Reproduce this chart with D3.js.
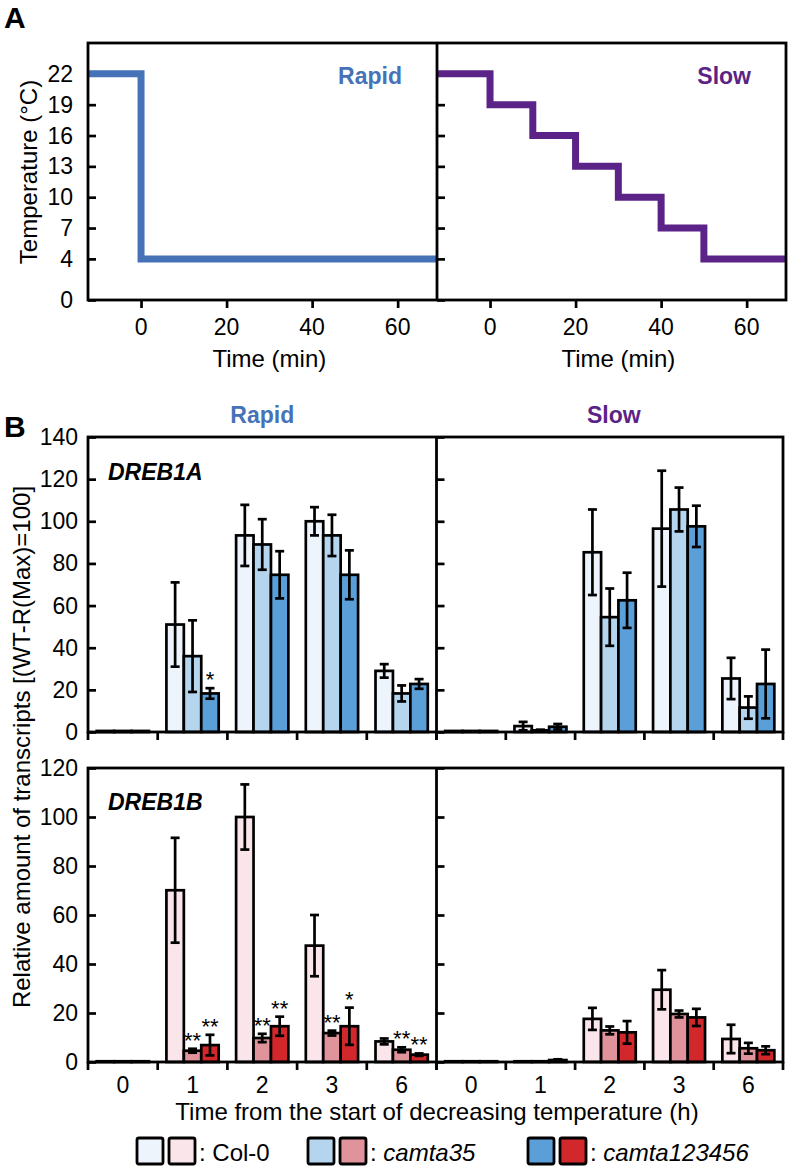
<!DOCTYPE html>
<html><head><meta charset="utf-8">
<script src="https://cdn.jsdelivr.net/npm/d3@7"></script>
<style>
html,body{margin:0;padding:0;background:#fff;}
svg{display:block;font-family:"Liberation Sans",Arial,Helvetica,sans-serif;}
</style></head>
<body>
<svg id="chart" width="789" height="1168"></svg>
<script>
// ---------- Data ----------
const tempTicks = [0, 4, 7, 10, 13, 16, 19, 22];
const timeTicks = [0, 20, 40, 60];
const rapidTime = [-12.4, 0, 69];
const rapidTemp = [22, 4, 4];
const slowTime = [-12.4, 0, 10, 20, 30, 40, 50, 69];
const slowTemp = [22, 19, 16, 13, 10, 7, 4, 4];

const categories = ["0", "1", "2", "3", "6"];
const genotypes = ["Col-0", "camta35", "camta123456"];
const barTicksA = [0, 20, 40, 60, 80, 100, 120, 140];
const barTicksB = [0, 20, 40, 60, 80, 100, 120];

const dreb1aRapid    = [[0.5,0.5,0.5],[51,36,18.3],[93.3,89,74.6],[100,93.3,74.6],[29,18.3,22.8]];
const dreb1aRapidErr = [[0,0,0],[20,17,2.5],[14.5,12,11.2],[6.7,9.8,11.6],[3.2,3.8,2.3]];
const dreb1aRapidSig = [["","",""],["","","*"],["","",""],["","",""],["","",""]];
const dreb1aSlow     = [[0.5,0.5,0.5],[2.8,0.8,2.5],[85.3,54.5,62.5],[96.5,105.6,97.6],[25.4,11.6,22.8]];
const dreb1aSlowErr  = [[0,0,0],[2,0.3,1.3],[20.3,13.6,13.1],[27.5,10.4,9.8],[9.8,5.3,16.3]];
const dreb1bRapid    = [[0.3,0.3,0.3],[70.1,4.6,6.9],[100,9.8,14.6],[47.5,11.8,14.6],[8.4,5,3]];
const dreb1bRapidErr = [[0,0,0],[21.4,0.8,4.2],[13.3,1.7,3.9],[12.5,1,7.6],[1.2,1,0.5]];
const dreb1bRapidSig = [["","",""],["","**","**"],["","**","**"],["","**","*"],["","**","**"]];
const dreb1bSlow     = [[0.3,0.3,0.3],[0.3,0.3,0.8],[17.6,12.9,12.1],[29.5,19.6,18.2],[9.4,5.6,4.8]];
const dreb1bSlowErr  = [[0,0,0],[0,0,0.3],[4.5,1.6,4.6],[8,1.4,3.5],[5.8,2.2,1.6]];
const noSig = [["","",""],["","",""],["","",""],["","",""],["","",""]];

const blueColors = ["#edf4fb", "#b5d5ef", "#5b9fd8"];
const redColors  = ["#f9e5ea", "#e0939b", "#d2282b"];
const rapidColor = "#4672b8";
const slowColor  = "#5b2387";

// ---------- Drawing ----------
const svg = d3.select("#chart");
svg.append("rect").attr("width", 789).attr("height", 1168).attr("fill", "#fff");
const FW = 2.8; // frame width
const SW = 2.7; // mark stroke width

// Panel labels
svg.append("text").attr("x", 4).attr("y", 28).attr("font-size", 30).attr("font-weight", "bold").text("A");
svg.append("text").attr("x", 4).attr("y", 437).attr("font-size", 30).attr("font-weight", "bold").text("B");

// ---- Panel A ----
const aTop = 43, aBot = 300, aL = 88, aMid = 437, aR = 786;
const yTemp = d3.scaleLinear().domain([0, 25]).range([aBot, aTop]);
function tempPanel(x0, x1, times, temps, color, label, showY) {
  const g = svg.append("g");
  const x = d3.scaleLinear().domain([-12.4, 69.2]).range([x0, x1]);
  const id = "clip" + Math.round(x0);
  svg.append("clipPath").attr("id", id).append("rect")
    .attr("x", x0).attr("y", aTop).attr("width", x1 - x0).attr("height", aBot - aTop);
  g.append("g").attr("transform", `translate(${x0},0)`)
    .call(d3.axisRight(yTemp).tickValues(tempTicks).tickSize(8).tickFormat(""))
    .call(s => { s.select(".domain").remove(); s.selectAll("line").attr("stroke-width", SW); });
  if (showY) {
    g.selectAll(".ytl").data(tempTicks).join("text")
      .attr("x", x0 - 15).attr("y", d => yTemp(d)).attr("dy", "0.35em")
      .attr("text-anchor", "end").attr("font-size", 23).text(d => d);
  }
  g.append("g").attr("transform", `translate(0,${aBot})`)
    .call(d3.axisBottom(x).tickValues(timeTicks).tickSize(8).tickFormat(""))
    .call(s => { s.select(".domain").remove(); s.selectAll("line").attr("stroke-width", SW); });
  g.selectAll(".xtl").data(timeTicks).join("text")
    .attr("x", d => x(d)).attr("y", 335).attr("text-anchor", "middle").attr("font-size", 23).text(d => d);
  g.append("text").attr("x", x(30)).attr("y", 367).attr("text-anchor", "middle")
    .attr("font-size", 24).text("Time (min)");
  const line = d3.line().x(d => x(d[0])).y(d => yTemp(d[1])).curve(d3.curveStepAfter);
  g.append("path").datum(times.map((t, i) => [t, temps[i]]))
    .attr("clip-path", `url(#${id})`)
    .attr("d", line).attr("fill", "none").attr("stroke", color).attr("stroke-width", 7);
  g.append("text").attr("x", x1 - 35).attr("y", 84).attr("text-anchor", "end")
    .attr("font-size", 23).attr("font-weight", "bold").attr("fill", color).text(label);
}
tempPanel(aL, aMid, rapidTime, rapidTemp, rapidColor, "Rapid", true);
tempPanel(aMid, aR, slowTime, slowTemp, slowColor, "Slow", false);
svg.append("rect").attr("x", aL).attr("y", aTop).attr("width", aR - aL).attr("height", aBot - aTop)
  .attr("fill", "none").attr("stroke", "#000").attr("stroke-width", FW);
svg.append("line").attr("x1", aMid).attr("x2", aMid).attr("y1", aTop).attr("y2", aBot)
  .attr("stroke", "#000").attr("stroke-width", FW);
svg.append("text").attr("transform", "translate(29,172) rotate(-90)").attr("dy", "0.35em")
  .attr("text-anchor", "middle").attr("font-size", 24).text("Temperature (°C)");

// ---- Panel B ----
const bL = 88, bMid = 436.5, bR = 783;
function barPanel(x0, x1, top, bot, ymax, ticks, vals, errs, sigs, colors, showY, showX) {
  const g = svg.append("g");
  const y = d3.scaleLinear().domain([0, ymax]).range([bot, top]);
  const xc = d3.scaleBand().domain(categories).range([x0, x1]).padding(0);
  const cw = xc.bandwidth();
  const xs = d3.scaleBand().domain(genotypes).range([cw * 0.125, cw * 0.875]).padding(0);
  g.append("g").attr("transform", `translate(${x0},0)`)
    .call(d3.axisRight(y).tickValues(ticks).tickSize(8).tickFormat(""))
    .call(s => { s.select(".domain").remove(); s.selectAll("line").attr("stroke-width", SW); });
  if (showY) {
    g.selectAll(".ytl").data(ticks).join("text")
      .attr("x", x0 - 10).attr("y", d => y(d)).attr("dy", "0.35em")
      .attr("text-anchor", "end").attr("font-size", 23).text(d => d);
  }
  const bounds = categories.map(c => xc(c)).concat([x1]);
  g.selectAll(".xt").data(bounds).join("line")
    .attr("x1", d => d).attr("x2", d => d).attr("y1", bot).attr("y2", bot + 8)
    .attr("stroke", "#000").attr("stroke-width", SW);
  if (showX) {
    g.selectAll(".xtl").data(categories).join("text")
      .attr("x", d => xc(d) + cw / 2).attr("y", bot + 31).attr("text-anchor", "middle")
      .attr("font-size", 23).text(d => d);
  }
  categories.forEach((c, ci) => {
    genotypes.forEach((gn, gi) => {
      const v = vals[ci][gi], e = errs[ci][gi], s = sigs[ci][gi];
      const bx = xc(c) + xs(gn), bw = xs.bandwidth();
      g.append("rect").attr("x", bx).attr("y", y(v)).attr("width", bw).attr("height", y(0) - y(v))
        .attr("fill", colors[gi]).attr("stroke", "#000").attr("stroke-width", SW);
      const cx = bx + bw / 2;
      if (e > 0) {
        const lo = y(Math.max(0, v - e)), hi = y(v + e);
        const eg = g.append("g").attr("stroke", "#000").attr("stroke-width", SW);
        eg.append("line").attr("x1", cx).attr("x2", cx).attr("y1", hi).attr("y2", lo);
        eg.append("line").attr("x1", cx - 4.5).attr("x2", cx + 4.5).attr("y1", hi).attr("y2", hi);
        eg.append("line").attr("x1", cx - 4.5).attr("x2", cx + 4.5).attr("y1", lo).attr("y2", lo);
      }
      if (s) {
        g.append("text").attr("x", cx).attr("y", y(v + e) - 1).attr("text-anchor", "middle")
          .attr("font-size", 22).text(s);
      }
    });
  });
  return y;
}
const t1 = 437, b1 = 732, t2 = 768, b2 = 1062;
barPanel(bL, bMid, t1, b1, 140, barTicksA, dreb1aRapid, dreb1aRapidErr, dreb1aRapidSig, blueColors, true, false);
barPanel(bMid, bR, t1, b1, 140, barTicksA, dreb1aSlow, dreb1aSlowErr, noSig, blueColors, false, false);
barPanel(bL, bMid, t2, b2, 120, barTicksB, dreb1bRapid, dreb1bRapidErr, dreb1bRapidSig, redColors, true, true);
barPanel(bMid, bR, t2, b2, 120, barTicksB, dreb1bSlow, dreb1bSlowErr, noSig, redColors, false, true);
[[t1, b1], [t2, b2]].forEach(([t, b]) => {
  svg.append("rect").attr("x", bL).attr("y", t).attr("width", bR - bL).attr("height", b - t)
    .attr("fill", "none").attr("stroke", "#000").attr("stroke-width", FW);
  svg.append("line").attr("x1", bMid).attr("x2", bMid).attr("y1", t).attr("y2", b)
    .attr("stroke", "#000").attr("stroke-width", FW);
});
svg.append("text").attr("x", (bL + bMid) / 2).attr("y", 423).attr("text-anchor", "middle")
  .attr("font-size", 23).attr("font-weight", "bold").attr("fill", rapidColor).text("Rapid");
svg.append("text").attr("x", (bMid + bR) / 2 + 4).attr("y", 423).attr("text-anchor", "middle")
  .attr("font-size", 23).attr("font-weight", "bold").attr("fill", slowColor).text("Slow");
svg.append("text").attr("x", 108).attr("y", 480).attr("font-size", 23)
  .attr("font-weight", "bold").attr("font-style", "italic").text("DREB1A");
svg.append("text").attr("x", 108).attr("y", 810).attr("font-size", 23)
  .attr("font-weight", "bold").attr("font-style", "italic").text("DREB1B");
svg.append("text").attr("transform", "translate(22,747) rotate(-90)").attr("dy", "0.35em")
  .attr("text-anchor", "middle").attr("font-size", 24).text("Relative amount of transcripts [(WT-R(Max)=100]");
svg.append("text").attr("x", 437).attr("y", 1120).attr("text-anchor", "middle")
  .attr("font-size", 24).text("Time from the start of decreasing temperature (h)");

// Legend
const legendX = [137, 308, 528];
genotypes.forEach((gn, i) => {
  const lx = legendX[i];
  [blueColors[i], redColors[i]].forEach((c, j) => {
    svg.append("rect").attr("x", lx + j * 32).attr("y", 1138).attr("width", 26).attr("height", 26)
      .attr("rx", 2).attr("fill", c).attr("stroke", "#000").attr("stroke-width", 2.8);
  });
  const t = svg.append("text").attr("x", lx + 62).attr("y", 1161).attr("font-size", 24);
  t.append("tspan").text(": ");
  t.append("tspan").attr("font-style", i === 0 ? "normal" : "italic").text(gn);
});
</script>
</body></html>
